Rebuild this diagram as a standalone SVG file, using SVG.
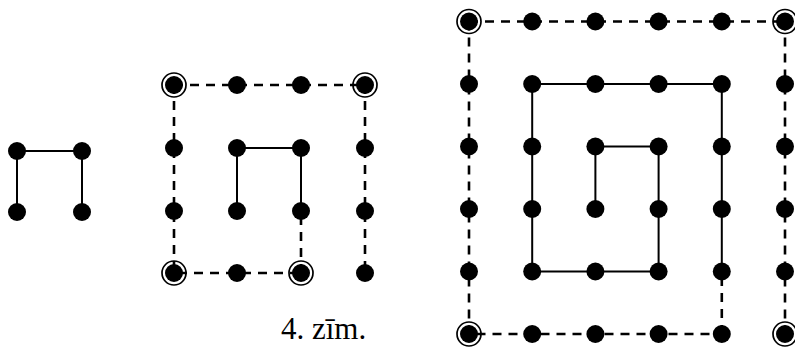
<svg xmlns="http://www.w3.org/2000/svg" width="795" height="347" viewBox="0 0 795 347">
<style>
.ring{fill:#fff;stroke:#000;stroke-width:1.7}
.dot{fill:#000}
.solid{fill:none;stroke:#000;stroke-width:2}
.dash{fill:none;stroke:#000;stroke-width:2.6;stroke-dasharray:9 7}
.lbl{font-family:"Liberation Serif","Times New Roman",serif;font-size:31px;fill:#000}
</style>
<rect width="795" height="347" fill="#fff"/>
<g id="rings">
<circle class="ring" cx="174" cy="85" r="12"/>
<circle class="ring" cx="365" cy="85" r="12"/>
<circle class="ring" cx="174" cy="273" r="12"/>
<circle class="ring" cx="301" cy="273" r="12"/>
<circle class="ring" cx="469" cy="21.5" r="12"/>
<circle class="ring" cx="785" cy="21.5" r="12"/>
<circle class="ring" cx="469" cy="334" r="12"/>
<circle class="ring" cx="785" cy="334" r="12"/>
</g>
<g id="connectors">
<polyline class="solid" points="17,212 17,151 82,151 82,212"/>
<polyline class="solid" points="237,211 237,148 301,148 301,211"/>
<polyline class="dash" points="174,85 365,85"/>
<polyline class="dash" points="174,85 174,273 301,273"/>
<polyline class="dash" points="301,273 301,211"/>
<polyline class="dash" points="365,85 365,273"/>
<polyline class="solid" points="595.4,209 595.4,146.5 658.6,146.5 658.6,271.5 532.2,271.5 532.2,84 721.8,84 721.8,271.5"/>
<polyline class="dash" points="469,21.5 785,21.5"/>
<polyline class="dash" points="469,21.5 469,334 721.8,334"/>
<polyline class="dash" points="721.8,334 721.8,271.5"/>
<polyline class="dash" points="785,21.5 785,334"/>
</g>
<g id="fig1" class="dot">
<circle cx="17" cy="151" r="9"/><circle cx="82" cy="151" r="9"/>
<circle cx="17" cy="212" r="9"/><circle cx="82" cy="212" r="9"/>
</g>
<g id="fig2" class="dot">
<circle cx="174" cy="85" r="9"/><circle cx="237" cy="85" r="9"/><circle cx="301" cy="85" r="9"/><circle cx="365" cy="85" r="9"/>
<circle cx="174" cy="148" r="9"/><circle cx="237" cy="148" r="9"/><circle cx="301" cy="148" r="9"/><circle cx="365" cy="148" r="9"/>
<circle cx="174" cy="211" r="9"/><circle cx="237" cy="211" r="9"/><circle cx="301" cy="211" r="9"/><circle cx="365" cy="211" r="9"/>
<circle cx="174" cy="273" r="9"/><circle cx="237" cy="273" r="9"/><circle cx="301" cy="273" r="9"/><circle cx="365" cy="273" r="9"/>
</g>
<g id="fig3" class="dot">
<circle cx="469" cy="21.5" r="9"/><circle cx="532.2" cy="21.5" r="9"/><circle cx="595.4" cy="21.5" r="9"/><circle cx="658.6" cy="21.5" r="9"/><circle cx="721.8" cy="21.5" r="9"/><circle cx="785" cy="21.5" r="9"/>
<circle cx="469" cy="84" r="9"/><circle cx="532.2" cy="84" r="9"/><circle cx="595.4" cy="84" r="9"/><circle cx="658.6" cy="84" r="9"/><circle cx="721.8" cy="84" r="9"/><circle cx="785" cy="84" r="9"/>
<circle cx="469" cy="146.5" r="9"/><circle cx="532.2" cy="146.5" r="9"/><circle cx="595.4" cy="146.5" r="9"/><circle cx="658.6" cy="146.5" r="9"/><circle cx="721.8" cy="146.5" r="9"/><circle cx="785" cy="146.5" r="9"/>
<circle cx="469" cy="209" r="9"/><circle cx="532.2" cy="209" r="9"/><circle cx="595.4" cy="209" r="9"/><circle cx="658.6" cy="209" r="9"/><circle cx="721.8" cy="209" r="9"/><circle cx="785" cy="209" r="9"/>
<circle cx="469" cy="271.5" r="9"/><circle cx="532.2" cy="271.5" r="9"/><circle cx="595.4" cy="271.5" r="9"/><circle cx="658.6" cy="271.5" r="9"/><circle cx="721.8" cy="271.5" r="9"/><circle cx="785" cy="271.5" r="9"/>
<circle cx="469" cy="334" r="9"/><circle cx="532.2" cy="334" r="9"/><circle cx="595.4" cy="334" r="9"/><circle cx="658.6" cy="334" r="9"/><circle cx="721.8" cy="334" r="9"/><circle cx="785" cy="334" r="9"/>
</g>
<g id="caption">
<text class="lbl" x="281" y="339">4. zīm.</text>
</g>
</svg>
